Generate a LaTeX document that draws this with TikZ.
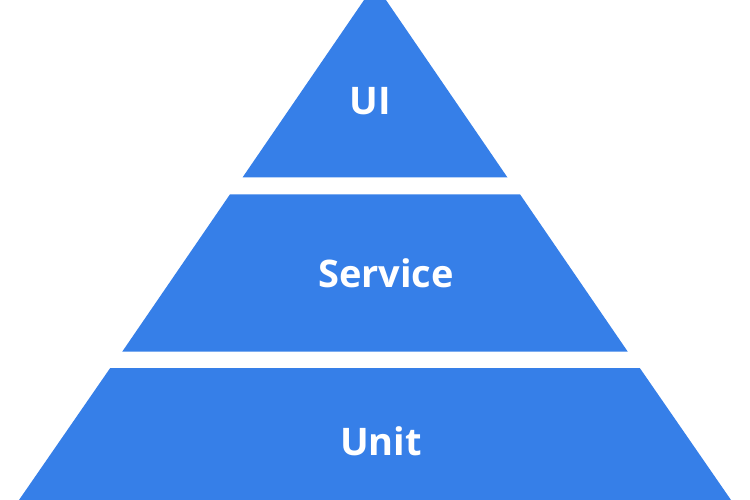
\documentclass[tikz,border=0pt]{standalone}
\usepackage{fontspec}
\setmainfont{Open Sans}
\definecolor{pyrblue}{RGB}{54,127,232}
\begin{document}
\begin{tikzpicture}[x=1pt,y=-1pt,
  layer/.style={fill=pyrblue,draw=none},
  lbl/.style={text=white,font=\fontsize{38}{44}\selectfont\bfseries,anchor=base,inner sep=0pt}]
\useasboundingbox (0,0) rectangle (750,500);
\clip (0,0) rectangle (750,500);
% left edge: x = 375 - 0.69*(y+16)
\path[layer] (375,-16) -- (507.5,177.5) -- (242.5,177.5) -- cycle;
\path[layer] (230.0,194.3) -- (520.0,194.3) -- (627.8,351.7) -- (122.2,351.7) -- cycle;
\path[layer] (110.2,368) -- (639.8,368) -- (731,500) -- (19,500) -- cycle;
\node[lbl] (ui) at (370,115) {UI};
\node[lbl] (service) at (386,287) {Service};
\node[lbl] (unit) at (381,455) {Unit};
\end{tikzpicture}
\end{document}
